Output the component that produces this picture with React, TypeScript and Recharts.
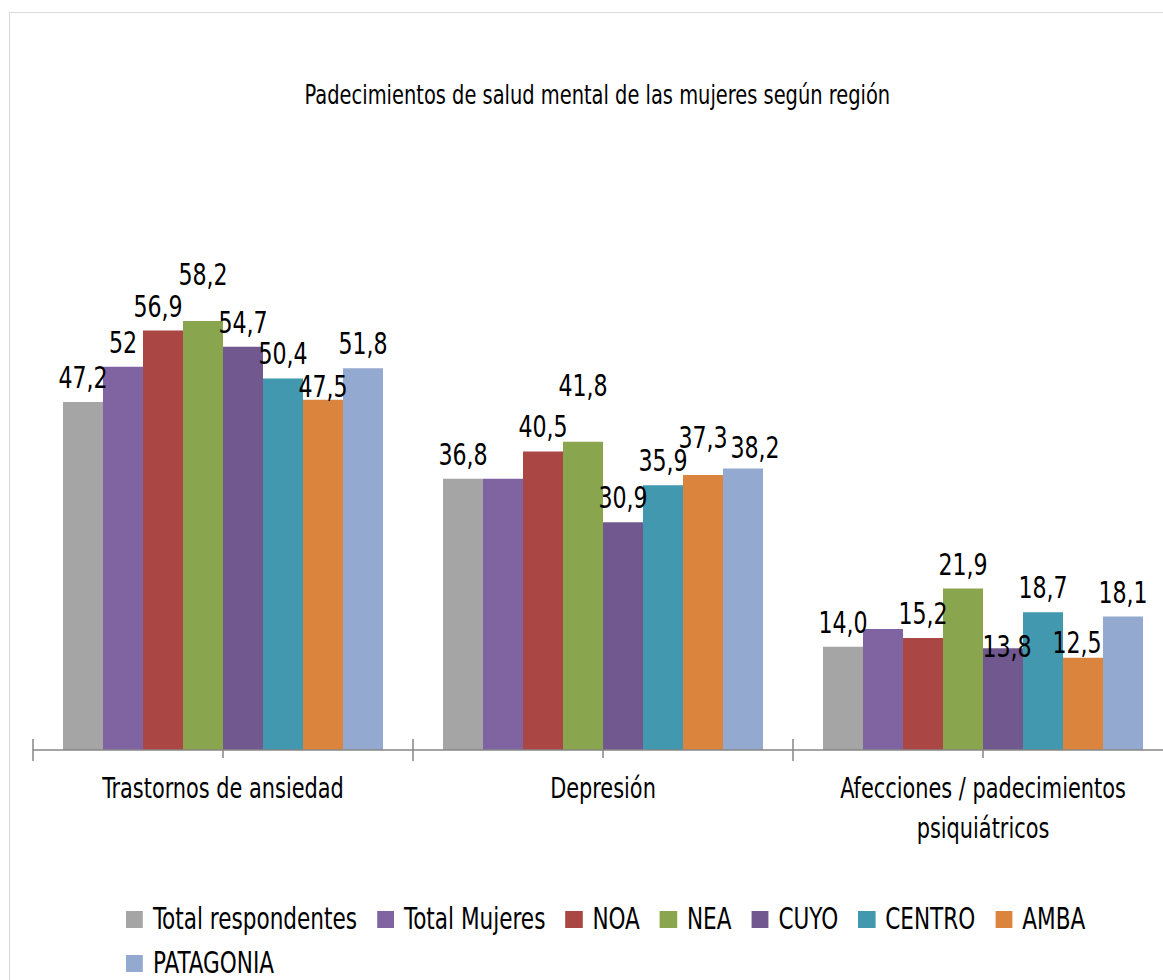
import React from "react";
import { Bar, BarChart, LabelList, XAxis, YAxis } from "recharts";

const categories = ["Trastornos de ansiedad", "Depresión", "Afecciones / padecimientos psiquiátricos"];

const totalRespondentes = [47.2, 36.8, 14.0];
const totalMujeres = [52, 36.8, 16.4];
const noa = [56.9, 40.5, 15.2];
const nea = [58.2, 41.8, 21.9];
const cuyo = [54.7, 30.9, 13.8];
const centro = [50.4, 35.9, 18.7];
const amba = [47.5, 37.3, 12.5];
const patagonia = [51.8, 38.2, 18.1];

// Total Mujeres only has a label on the first category, and it's written without decimals
const totalMujeresLabels = ["52", null, null];

// no narrow font installed -> condensed face squeezed a bit more
const FONT = "'DejaVu Sans Condensed', 'Liberation Sans Narrow', 'Arial Narrow', sans-serif";
const SX = 0.8;

const series = [
  { key: "total", name: "Total respondentes", color: "#A5A5A5", values: totalRespondentes },
  { key: "mujeres", name: "Total Mujeres", color: "#8064A2", values: totalMujeres, labels: totalMujeresLabels },
  { key: "noa", name: "NOA", color: "#AA4643", values: noa },
  { key: "nea", name: "NEA", color: "#89A54E", values: nea },
  { key: "cuyo", name: "CUYO", color: "#71588F", values: cuyo },
  { key: "centro", name: "CENTRO", color: "#4198AF", values: centro },
  { key: "amba", name: "AMBA", color: "#DB843D", values: amba },
  { key: "patagonia", name: "PATAGONIA", color: "#93A9CF", values: patagonia },
];

const data = categories.map((cat, i) => {
  const row: Record<string, string | number> = { cat };
  series.forEach((s) => (row[s.key] = s.values[i]));
  return row;
});

// small manual nudges for labels that were moved by hand in the original
const labelNudge: Record<string, [number, number]> = {
  "nea-0": [0, -22],
  "nea-1": [0, -32],
  "amba-0": [0, 11],
  "amba-1": [0, -13],
  "patagonia-1": [12, 4],
  "amba-2": [-6, 9],
  "cuyo-2": [4, 23],
  "noa-0": [-5, 0],
};

const CHART_W = 1190;
const X_AXIS_H = 130;
const MARGIN = { top: 234, right: 17, bottom: 100, left: 33 };
const BAND = (CHART_W - MARGIN.left - MARGIN.right) / categories.length;
const AXIS_COLOR = "#868686";

const fmt = (v: number) => v.toFixed(1).replace(".", ",");

// greedy word wrap by character count
function wrap(text: string, maxChars: number) {
  const lines: string[] = [];
  let cur = "";
  text.split(" ").forEach((w) => {
    if (cur && (cur + " " + w).length > maxChars) {
      lines.push(cur);
      cur = w;
    } else {
      cur = cur ? cur + " " + w : w;
    }
  });
  if (cur) lines.push(cur);
  return lines;
}

function makeLabel(key: string, labels?: (string | null)[]) {
  return (props: any) => {
    const { x, y, width, value, index } = props;
    const text = labels ? labels[index] : fmt(Number(value));
    if (!text) return null;
    const [dx, dy] = labelNudge[`${key}-${index}`] || [0, 0];
    const cx = Number(x) + Number(width) / 2 + dx;
    const cy = Number(y) - 14 + dy;
    return (
      <g transform={`translate(${cx},${cy}) scale(0.82,1)`}>
        <text x={0} y={0} textAnchor="middle" fontSize={30} fontFamily={FONT} fill="#000">
          {text}
        </text>
      </g>
    );
  };
}

function CategoryTick(props: any) {
  const { x, y, payload, index } = props;
  const half = BAND / 2;
  const lines = wrap(String(payload.value), 30);
  return (
    <g>
      <line x1={x - half} x2={x - half} y1={y - 11} y2={y + 11} stroke={AXIS_COLOR} strokeWidth={1.5} />
      {index === categories.length - 1 && (
        <line x1={x + half} x2={x + half} y1={y - 11} y2={y + 11} stroke={AXIS_COLOR} strokeWidth={1.5} />
      )}
      <line x1={x} x2={x} y1={y} y2={y + 8} stroke={AXIS_COLOR} strokeWidth={1.5} />
      <g transform={`translate(${x},${y + 48}) scale(${SX},1)`}>
        <text x={0} y={0} textAnchor="middle" fontSize={29} fontFamily={FONT} fill="#000">
          {lines.map((l, i) => (
            <tspan key={i} x={0} dy={i === 0 ? 0 : 40}>
              {l}
            </tspan>
          ))}
        </text>
      </g>
    </g>
  );
}

export default function App() {
  return (
    <div style={{ position: "relative", width: 1163, height: 980, overflow: "hidden", background: "#fff", fontFamily: FONT }}>
      <style>{"body{margin:0}"}</style>
      <div
        style={{
          position: "absolute",
          left: 9,
          top: 12,
          width: 1300,
          height: 1100,
          border: "1.5px solid #D9D9D9",
          boxSizing: "border-box",
        }}
      />
      <div
        style={{
          position: "absolute",
          left: 0,
          width: 1195,
          top: 80,
          textAlign: "center",
          fontSize: 27,
          lineHeight: "30px",
          color: "#000",
          transform: `scaleX(${SX})`,
          transformOrigin: "597px 0",
        }}
      >
        Padecimientos de salud mental de las mujeres según región
      </div>
      <div style={{ position: "absolute", left: 0, top: 0 }}>
        <BarChart width={CHART_W} height={980} data={data} margin={MARGIN} barCategoryGap={30} barGap={0}>
          <YAxis hide domain={[0, 70]} />
          <XAxis
            dataKey="cat"
            interval={0}
            tickSize={0}
            tickMargin={0}
            height={X_AXIS_H}
            axisLine={{ stroke: AXIS_COLOR, strokeWidth: 1.5 }}
            tickLine={false}
            tick={<CategoryTick />}
          />
          {series.map((s) => (
            <Bar key={s.key} dataKey={s.key} name={s.name} fill={s.color} isAnimationActive={false}>
              <LabelList dataKey={s.key} content={makeLabel(s.key, s.labels)} />
            </Bar>
          ))}
        </BarChart>
      </div>
      <div
        style={{
          position: "absolute",
          left: 126,
          top: 902,
          width: 1010 / SX,
          display: "flex",
          flexWrap: "wrap",
          columnGap: 20 / SX,
          rowGap: 10,
          fontSize: 30,
          lineHeight: "34px",
          color: "#000",
          transform: `scaleX(${SX})`,
          transformOrigin: "0 0",
        }}
      >
        {series.map((s) => (
          <div key={s.key} style={{ display: "flex", alignItems: "center" }}>
            <span style={{ display: "inline-block", width: 17 / SX, height: 17, background: s.color, marginRight: 10 / SX }} />
            <span>{s.name}</span>
          </div>
        ))}
      </div>
    </div>
  );
}
